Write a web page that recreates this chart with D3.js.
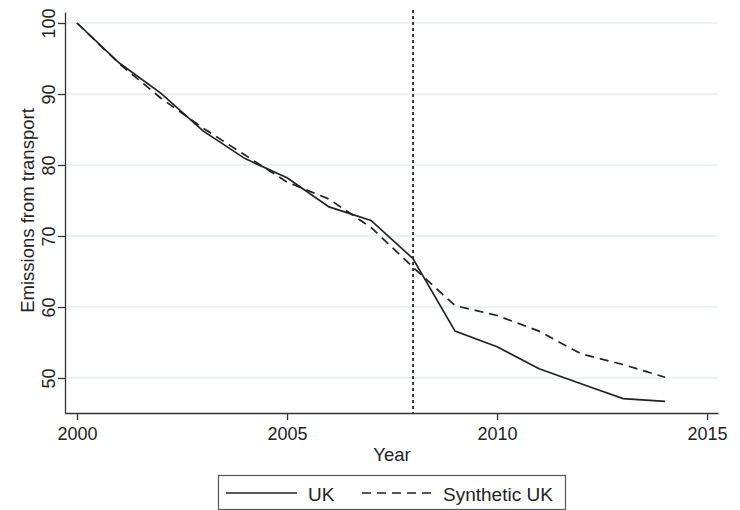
<!DOCTYPE html>
<html><head><meta charset="utf-8">
<script src="https://cdn.jsdelivr.net/npm/d3@7"></script>
<style>body{margin:0;background:#fff}svg{display:block}</style>
</head><body><svg id="c" width="740" height="510"></svg>
<script>
const years = [2000,2001,2002,2003,2004,2005,2006,2007,2008,2009,2010,2011,2012,2013,2014];
const uk = [100,94.4,90.1,84.8,80.9,78.2,74.1,72.2,66.8,56.6,54.4,51.3,49.2,47.1,46.7];
const synthetic = [100,94.3,89.4,85.2,81.4,77.6,75.2,71.2,65.6,60.2,58.8,56.6,53.4,51.9,50.1];
const xTicks = [2000,2005,2010,2015];
const yTicks = [50,60,70,80,90,100];
const treatmentYear = 2008;
const seriesNames = ["UK","Synthetic UK"];

const svg = d3.select("#c");
const font = "'Liberation Sans', Arial, sans-serif";
const pL = 65, pR = 718, pT = 12, pB = 413;
const x = d3.scaleLinear().domain([1999.714, 2015.26]).range([pL, pR]);
const y = d3.scaleLinear().domain([45.07, 101.55]).range([pB, pT]);

// gridlines
svg.append("g").selectAll("line").data(yTicks).join("line")
  .attr("x1", pL).attr("x2", pR)
  .attr("y1", d => y(d)).attr("y2", d => y(d))
  .attr("stroke", "#e6eef1").attr("stroke-width", 1.5);

// axes
const xa = svg.append("g").attr("transform", `translate(0,${pB})`)
  .call(d3.axisBottom(x).tickValues(xTicks).tickFormat(d3.format("d")).tickSizeInner(7).tickSizeOuter(0).tickPadding(4));
const ya = svg.append("g").attr("transform", `translate(${pL},0)`)
  .call(d3.axisLeft(y).tickValues(yTicks).tickSizeInner(7).tickSizeOuter(0).tickPadding(5));
[xa, ya].forEach(a => {
  a.select(".domain").attr("stroke", "#333").attr("stroke-width", 1.3);
  a.selectAll(".tick line").attr("stroke", "#333").attr("stroke-width", 1.3);
  a.selectAll("text").attr("font-family", font).attr("font-size", 18).attr("fill", "#222");
});
xa.selectAll(".tick text").attr("y", 27).attr("dy", 0);
ya.selectAll(".tick text")
  .attr("text-anchor", "middle").attr("dy", 0)
  .attr("transform", "translate(-10,0) rotate(-90)")
  .attr("x", 0).attr("y", 0);

// axis titles
svg.append("text").attr("x", 392).attr("y", 461)
  .attr("text-anchor", "middle").attr("font-family", font).attr("font-size", 18.5).attr("fill", "#222").text("Year");
svg.append("text").attr("transform", `translate(34,210.5) rotate(-90)`)
  .attr("text-anchor", "middle").attr("font-family", font).attr("font-size", 18.5).attr("fill", "#222").text("Emissions from transport");

// treatment line
svg.append("line").attr("x1", x(treatmentYear)).attr("x2", x(treatmentYear))
  .attr("y1", 10).attr("y2", pB)
  .attr("stroke", "#222").attr("stroke-width", 1.8).attr("stroke-dasharray", "3,3");

// series
const line = d3.line().x((d, i) => x(years[i])).y(d => y(d));
svg.append("path").datum(synthetic).attr("d", line).attr("fill", "none")
  .attr("stroke", "#222").attr("stroke-width", 1.7).attr("stroke-dasharray", "9,6");
svg.append("path").datum(uk).attr("d", line).attr("fill", "none")
  .attr("stroke", "#222").attr("stroke-width", 1.7);

// legend
const lg = svg.append("g");
lg.append("rect").attr("x", 218.5).attr("y", 475.5).attr("width", 347).attr("height", 34)
  .attr("fill", "#fff").attr("stroke", "#555").attr("stroke-width", 1.2);
lg.append("line").attr("x1", 226).attr("x2", 297).attr("y1", 493).attr("y2", 493)
  .attr("stroke", "#222").attr("stroke-width", 1.7);
lg.append("text").attr("x", 308).attr("y", 501).attr("font-family", font).attr("font-size", 19).attr("fill", "#222").text(seriesNames[0]);
lg.append("line").attr("x1", 362).attr("x2", 431).attr("y1", 493).attr("y2", 493)
  .attr("stroke", "#222").attr("stroke-width", 1.7).attr("stroke-dasharray", "9,6");
lg.append("text").attr("x", 443).attr("y", 501).attr("font-family", font).attr("font-size", 19).attr("fill", "#222").text(seriesNames[1]);
</script>
</body></html>
